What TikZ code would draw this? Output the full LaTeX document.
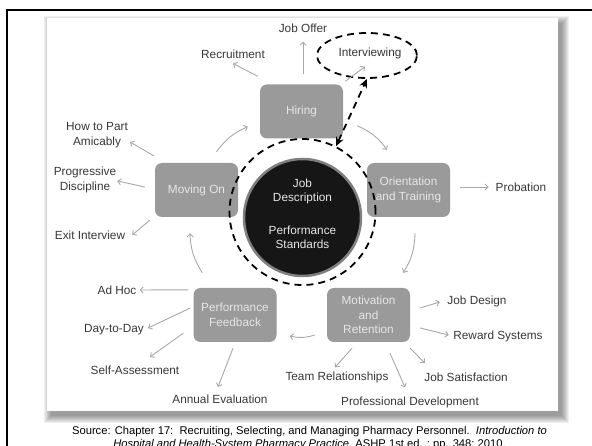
\documentclass[tikz,border=0pt]{standalone}
\usepackage{fontspec}
\setmainfont{Liberation Sans}
\usetikzlibrary{arrows.meta, shapes.geometric}
\definecolor{boxgray}{HTML}{9A9A9A}
\definecolor{boxtext}{HTML}{E6E6E6}
\definecolor{coreblack}{HTML}{161616}
\definecolor{rimgray}{HTML}{808080}
\definecolor{arrowgray}{HTML}{A8A8A8}
\definecolor{labelgray}{HTML}{383838}
\tikzstyle{stage}=[shape=rectangle, rounded corners=7pt, minimum height=54pt, minimum width=83pt, inner sep=0pt, fill=boxgray, text=boxtext, align=center, font=\fontsize{11.8}{14.5}\selectfont]
\tikzstyle{coredisc}=[shape=circle, minimum size=117pt, inner sep=0pt, fill=coreblack, draw=rimgray, line width=2.5pt]
\tikzstyle{coretext}=[text=boxtext, align=center, font=\fontsize{11.8}{14}\selectfont]
\tikzstyle{dashring}=[shape=circle, minimum size=146pt, inner sep=0pt, draw=black, line width=1.8pt, dash pattern=on 7pt off 5pt]
\tikzstyle{dashoval}=[shape=ellipse, minimum width=100pt, minimum height=45pt, inner sep=0pt, draw=black, line width=1.8pt, dash pattern=on 7pt off 5pt]
\tikzstyle{lbl}=[inner sep=1pt, text=labelgray, align=center, font=\fontsize{11.8}{15}\selectfont]
\tikzstyle{spoke}=[draw=arrowgray, line width=0.9pt, -{Straight Barb[length=3pt,width=6pt]}]
\tikzstyle{cycarrow}=[spoke, bend left=15]
\tikzstyle{dashlink}=[draw=black, line width=1.8pt, dash pattern=on 7pt off 5pt, {Stealth[length=9pt,width=8pt]}-{Stealth[length=9pt,width=8pt]}]

\begin{document}
\begin{tikzpicture}[x=1pt, y=-1pt]
\useasboundingbox (0,0) rectangle (592,446);
\clip (0,0) rectangle (592,446);
%frame
\draw[line width=2pt] (7,460) -- (7,10) -- (600,10);
%panel and its shadow
\foreach \k in {1,...,8}{
	\fill[black, opacity=0.06] (43+\k,15+\k) rectangle (570-\k,424-\k);
}
\fill[white] (47,18) rectangle (558,411);
%stages
\node[stage] (hiring) at (301.5,111.5) {Hiring};
\node[stage] (orient) at (408.5,190) {Orientation\\and Training};
\node[stage] (motiv) at (368.5,315) {Motivation\\and\\Retention};
\node[stage] (perf) at (235,315) {Performance\\Feedback};
\node[stage] (moving) at (196.5,190) {Moving On};
\node[coredisc] (core) at (302.5,217.5) {};
\node[coretext] (coretxt) at (302.5,214) {Job\\Description\\[19pt]Performance\\Standards};
\node[dashring] (ring) at (302.5,212) {};
\node[dashoval] (iview) at (367,55.5) {};
%outer labels
\foreach \nm/\pos/\txt in {offer/{(303,28)}/{Job Offer}, recruit/{(233,54)}/{Recruitment},
	interview/{(370,53)}/{Interviewing}, probation/{(521,187)}/{Probation},
	part/{(97,135)}/{How to Part\\Amicably}, discipline/{(85,180)}/{Progressive\\Discipline},
	exit/{(90,235)}/{Exit Interview}, adhoc/{(117,290)}/{Ad Hoc},
	daily/{(114,330)}/{Day-to-Day}, self/{(135,370)}/{Self-Assessment},
	annual/{(220,399)}/{Annual Evaluation}, design/{(477,301)}/{Job Design},
	reward/{(498,336)}/{Reward Systems}, team/{(337,377)}/{Team Relationships},
	profdev/{(410,402)}/{Professional Development}, satisf/{(466,377)}/{Job Satisfaction}}{
	\node[lbl] (\nm) at \pos {\txt};
}
%spokes
\draw[spoke] ([shift={(1.5,-10)}]hiring.north) -- ([shift={(0,8)}]offer.south);
\draw[spoke] ([shift={(-2,-8)}]hiring.north west) -- ([shift={(0,4)}]recruit.south);
\draw[spoke] ([shift={(2,-3)}]hiring.north east) -- ([shift={(-5,7)}]interview.south);
\draw[spoke] ([shift={(10,-3)}]orient.east) -- ([shift={(-6,0)}]probation.west);
\draw[spoke] ([shift={(-1,-7)}]moving.north west) -- ([shift={(1,7)}]part.east);
\draw[spoke] ([shift={(-10,-3)}]moving.west) -- ([shift={(0,1)}]discipline.east);
\draw[spoke] ([shift={(-5,3)}]moving.south west) -- ([shift={(6,0)}]exit.east);
\draw[spoke] ([shift={(-5,2)}]perf.north west) -- ([shift={(2,0)}]adhoc.east);
\draw[spoke] ([shift={(-3,-7)}]perf.west) -- ([shift={(3,-2)}]daily.east);
\draw[spoke] ([shift={(-10,-9)}]perf.south west) -- ([shift={(15,-7.5)}]self.north);
\draw[spoke] ([shift={(-2,6)}]perf.south) -- ([shift={(-2,-6.5)}]annual.north);
\draw[spoke] ([shift={(10,-7)}]motiv.east) -- ([shift={(-6.5,1)}]design.west);
\draw[spoke] ([shift={(10,13)}]motiv.east) -- ([shift={(-3.5,-1)}]reward.west);
\draw[spoke] ([shift={(-16.5,6)}]motiv.south) -- ([shift={(-2,-3)}]team.north);
\draw[spoke] ([shift={(21.5,11)}]motiv.south) -- ([shift={(-5,-8)}]profdev.north);
\draw[spoke] ([shift={(0,6)}]motiv.south east) -- ([shift={(1.6,-8.5)}]satisf.north west);
%cycle
\draw[cycarrow] ([shift={(20,-11)}]moving.north) to ([shift={(-12,-12)}]hiring.south west);
\draw[cycarrow] ([shift={(14,-13)}]hiring.south east) to ([shift={(-21.5,-13)}]orient.north);
\draw[cycarrow] ([shift={(6.5,16)}]orient.south) to ([shift={(-7,-15)}]motiv.north east);
\draw[cycarrow] ([shift={(-12,20)}]motiv.west) to ([shift={(13,21)}]perf.east);
\draw[cycarrow] ([shift={(9,-15)}]perf.north west) to ([shift={(-6.5,16)}]moving.south);
\draw[dashlink] (ring.63) -- (iview.south);
%source
\node[align=center, font=\fontsize{11.2}{13}\selectfont] (source) at (309.5,438.5) {Source: Chapter 17:\ \ Recruiting, Selecting, and Managing Pharmacy Personnel.\ \ \textit{Introduction to}\\\textit{Hospital and Health-System Pharmacy Practice}, ASHP 1st ed. ; pp. 348; 2010.};
\end{tikzpicture}
\end{document}
